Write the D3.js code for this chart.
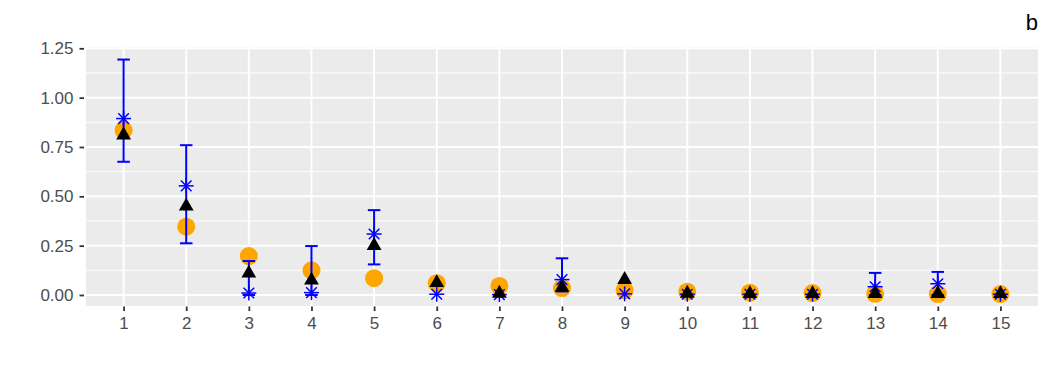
<!DOCTYPE html>
<html>
<head>
<meta charset="utf-8">
<script src="https://cdn.jsdelivr.net/npm/d3@7"></script>
<style>
  html, body { margin: 0; padding: 0; background: #fff; }
  svg { display: block; }
</style>
</head>
<body>
<svg id="chart" width="1050" height="375"></svg>
<script>
// ---- data ----
const categories = [1, 2, 3, 4, 5, 6, 7, 8, 9, 10, 11, 12, 13, 14, 15];
const orangeValues = [0.835, 0.346, 0.197, 0.125, 0.085, 0.060, 0.046, 0.035, 0.024, 0.017, 0.012, 0.010, 0.006, 0.005, 0.005];
const blackValues  = [0.81, 0.45, 0.11, 0.075, 0.25, 0.062, 0.008, 0.038, 0.078, 0.008, 0.006, 0.006, 0.006, 0.006, 0.006];
const blueValues   = [0.894, 0.553, 0.010, 0.012, 0.309, 0.004, 0.002, 0.078, 0.006, 0.004, 0.004, 0.004, 0.042, 0.057, 0.004];
const blueLower    = [0.675, 0.262, 0.0, 0.0, 0.155, 0.0, 0.0, 0.018, 0.0, 0.0, 0.0, 0.0, 0.0, 0.0, 0.0];
const blueUpper    = [1.193, 0.759, 0.172, 0.248, 0.430, 0.004, 0.002, 0.186, 0.006, 0.004, 0.004, 0.004, 0.112, 0.117, 0.004];
const hasErrorBar  = [true, true, true, true, true, false, false, true, false, false, false, false, true, true, false];
const yTicks = [0, 0.25, 0.5, 0.75, 1.0, 1.25];
const yMinorTicks = [0.125, 0.375, 0.625, 0.875, 1.125];
const panelLabel = "b";

// ---- layout ----
const svg = d3.select("#chart");
const panel = { left: 86, right: 1038, top: 47, bottom: 306 };

const x = d3.scaleLinear().domain([0.4, 15.6]).range([panel.left, panel.right]);
const y = d3.scaleLinear().domain([0, 1.25]).range([295, 48.3]);

const font = "'Liberation Sans', Arial, Helvetica, sans-serif";

// panel background
svg.append("rect")
  .attr("x", panel.left).attr("y", panel.top)
  .attr("width", panel.right - panel.left).attr("height", panel.bottom - panel.top)
  .attr("fill", "#EBEBEB");

const grid = svg.append("g");
grid.selectAll("line.minor").data(yMinorTicks).join("line")
  .attr("x1", panel.left).attr("x2", panel.right)
  .attr("y1", d => y(d)).attr("y2", d => y(d))
  .attr("stroke", "#fff").attr("stroke-width", 1);
grid.selectAll("line.majy").data(yTicks).join("line")
  .attr("x1", panel.left).attr("x2", panel.right)
  .attr("y1", d => y(d)).attr("y2", d => y(d))
  .attr("stroke", "#fff").attr("stroke-width", 2);
grid.selectAll("line.majx").data(categories).join("line")
  .attr("y1", panel.top).attr("y2", panel.bottom)
  .attr("x1", d => x(d)).attr("x2", d => x(d))
  .attr("stroke", "#fff").attr("stroke-width", 2);

// axes
const yAxis = d3.axisLeft(y).tickValues(yTicks).tickFormat(d3.format(".2f")).tickSize(4.5).tickPadding(6);
const gy = svg.append("g").attr("transform", `translate(84,0)`).call(yAxis);
const xAxis = d3.axisBottom(x).tickValues(categories).tickFormat(d3.format("d")).tickSize(4.5).tickPadding(6);
const gx = svg.append("g").attr("transform", `translate(0,${panel.bottom + 0.5})`).call(xAxis);
[gy, gx].forEach(g => {
  g.select(".domain").remove();
  g.selectAll(".tick line").attr("stroke", "#333").attr("stroke-width", 1.8);
  g.selectAll(".tick text").attr("fill", "#4D4D4D").style("font-family", font).style("font-size", "17px");
});

// data rows
const rows = categories.map((c, i) => ({
  c, o: orangeValues[i], b: blackValues[i], s: blueValues[i],
  lo: blueLower[i], hi: blueUpper[i], eb: hasErrorBar[i]
}));

// orange circles
svg.append("g").selectAll("circle").data(rows).join("circle")
  .attr("cx", d => x(d.c)).attr("cy", d => y(d.o)).attr("r", 9)
  .attr("fill", "#FFA500");

// error bars
const capW = x(0.1) - x(0);
const eb = svg.append("g").attr("stroke", "#0000FF").attr("stroke-width", 2).attr("fill", "none");
const ebRows = rows.filter(d => d.eb);
eb.selectAll("line.v").data(ebRows).join("line")
  .attr("x1", d => x(d.c)).attr("x2", d => x(d.c))
  .attr("y1", d => y(d.lo)).attr("y2", d => y(d.hi));
eb.selectAll("line.top").data(ebRows).join("line")
  .attr("x1", d => x(d.c) - capW).attr("x2", d => x(d.c) + capW)
  .attr("y1", d => y(d.hi)).attr("y2", d => y(d.hi));
eb.selectAll("line.bot").data(ebRows).join("line")
  .attr("x1", d => x(d.c) - capW).attr("x2", d => x(d.c) + capW)
  .attr("y1", d => y(d.lo)).attr("y2", d => y(d.lo));

// blue asterisks
const astR = 7.5;
const ag = svg.append("g").attr("stroke", "#0000FF").attr("stroke-width", 1.5);
ag.selectAll("g").data(rows).join("g")
  .attr("transform", d => `translate(${x(d.c)},${y(d.s)})`)
  .each(function() {
    const g = d3.select(this);
    const a = astR, dd = astR * 0.7071;
    g.append("line").attr("x1", -a).attr("x2", a).attr("y1", 0).attr("y2", 0);
    g.append("line").attr("x1", 0).attr("x2", 0).attr("y1", -a).attr("y2", a);
    g.append("line").attr("x1", -dd).attr("x2", dd).attr("y1", -dd).attr("y2", dd);
    g.append("line").attr("x1", -dd).attr("x2", dd).attr("y1", dd).attr("y2", -dd);
  });

// black triangles
const tri = d3.symbol().type(d3.symbolTriangle).size(95);
svg.append("g").selectAll("path").data(rows).join("path")
  .attr("d", tri)
  .attr("transform", d => `translate(${x(d.c)},${y(d.b)})`)
  .attr("fill", "#000");

// panel tag
svg.append("text").attr("x", 1038).attr("y", 30).attr("text-anchor", "end")
  .style("font-family", font).style("font-size", "22px").attr("fill", "#000")
  .text(panelLabel);
</script>
</body>
</html>
